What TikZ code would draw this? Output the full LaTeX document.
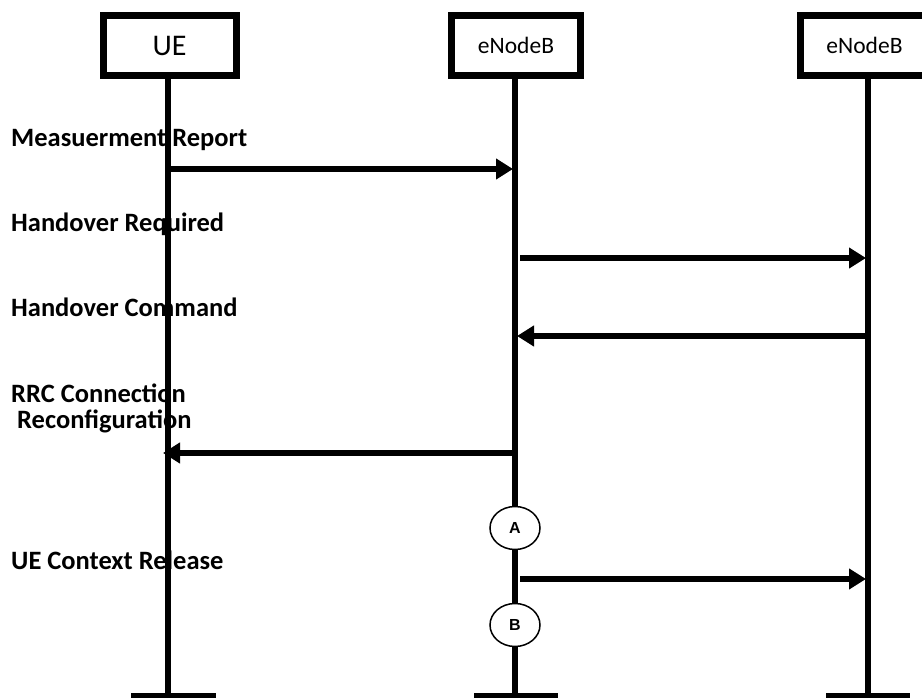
\documentclass[tikz,border=0pt]{standalone}
\usepackage{fontspec}
\setmainfont{Carlito}
\newfontfamily\arialfont{Liberation Sans}
\usetikzlibrary{arrows.meta,shapes.geometric}
\begin{document}
\begin{tikzpicture}[x=1pt,y=-1pt,
  actor/.style={draw,fill=white,line width=7pt,minimum width=129pt,minimum height=60pt,inner sep=0pt,font=\fontsize{23.5}{23.5}\selectfont},
  life/.style={line width=6.5pt},
  msg/.style={line width=6pt,-{Triangle[length=17pt,width=20pt]}},
  lbl/.style={anchor=base west,inner sep=0pt,font=\fontsize{26.5}{26.5}\selectfont\bfseries},
  phase/.style={ellipse,draw,line width=1.5pt,fill=white,minimum width=50pt,minimum height=43pt,inner sep=0pt,font=\arialfont\bfseries\fontsize{16}{16}\selectfont},
  endbar/.style={line width=5pt}]
\useasboundingbox (0,0) rectangle (922,698);
% labels (behind lifelines)
\node[lbl] (l1) at (11,147) {Measuerment Report};
\node[lbl] (l2) at (11,232) {Handover Required};
\node[lbl] (l3) at (11,316) {Handover Command};
\node[lbl] (l4) at (11,402) {RRC Connection};
\node[lbl] (l5) at (17,428) {Reconfiguration};
\node[lbl] (l6) at (11,569) {UE Context Release};
% lifeline coordinates
\coordinate (ueT) at (168,78);  \coordinate (ueB) at (168,696);
\coordinate (e1T) at (515,78);  \coordinate (e1B) at (515,696);
\coordinate (e2T) at (868,78);  \coordinate (e2B) at (868,696);
\draw[life] (ueT) -- (ueB);
\draw[life] (e1T) -- (e1B);
\draw[life] (e2T) -- (e2B);
% end bars
\coordinate (ub1) at (131,695.5); \coordinate (ub2) at (216,695.5);
\coordinate (eb1) at (474,695.5); \coordinate (eb2) at (558,695.5);
\coordinate (fb1) at (826,695.5); \coordinate (fb2) at (910,695.5);
\draw[endbar] (ub1) -- (ub2);
\draw[endbar] (eb1) -- (eb2);
\draw[endbar] (fb1) -- (fb2);
% actor boxes
\node[actor,minimum width=133pt,font=\fontsize{30}{30}\selectfont] (ue) at (169.5,45.5) {UE};
\node[actor] (enb1) at (516,45.5) {eNodeB};
\node[actor] (enb2) at (864.5,45.5) {eNodeB};
% message end points
\coordinate (m1a) at (171,169); \coordinate (m1b) at (513,169);
\coordinate (m2a) at (520,258); \coordinate (m2b) at (866,258);
\coordinate (m3a) at (868,336); \coordinate (m3b) at (517,336);
\coordinate (m4a) at (515,453); \coordinate (m4b) at (163,453);
\coordinate (m5a) at (520,579); \coordinate (m5b) at (866,579);
\draw[msg] (m1a) -- (m1b);
\draw[msg] (m2a) -- (m2b);
\draw[msg] (m3a) -- (m3b);
\draw[msg] (m4a) -- (m4b);
\draw[msg] (m5a) -- (m5b);
% phase markers
\node[phase] (pa) at (515,528) {A};
\node[phase] (pb) at (515,625) {B};
\end{tikzpicture}
\end{document}
